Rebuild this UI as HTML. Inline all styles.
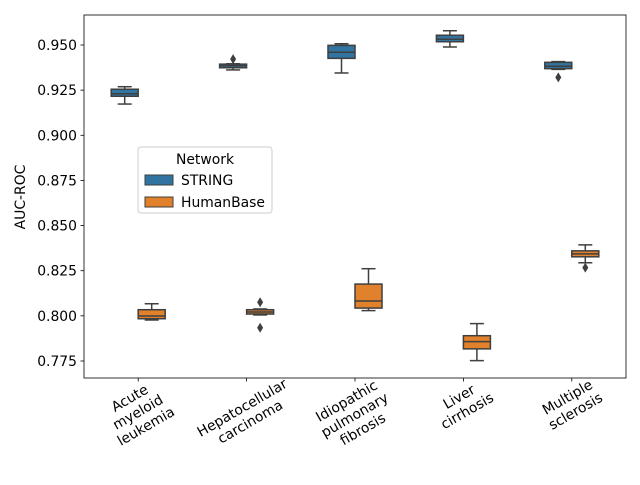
<!DOCTYPE html>
<html><head><meta charset="utf-8"><style>
body{margin:0;background:#fff}
svg text{font-family:"DejaVu Sans","Liberation Sans",sans-serif;fill:#000}
</style></head><body>
<svg id="c" width="640" height="480" xmlns="http://www.w3.org/2000/svg"></svg>
<script>
const categories=[["Acute","myeloid","leukemia"],["Hepatocellular","carcinoma"],["Idiopathic","pulmonary","fibrosis"],["Liver","cirrhosis"],["Multiple","sclerosis"]];
const seriesNames=["STRING","HumanBase"];
const colors=["#3274a1","#e1812c"];
// [whiskerLow, q1, median, q3, whiskerHigh]
const stringStats=[[0.9173,0.9216,0.9230,0.9255,0.9269],[0.9362,0.9374,0.9385,0.9394,0.9396],[0.9345,0.9426,0.9460,0.9498,0.9507],[0.9489,0.9518,0.9532,0.9554,0.9579],[0.9365,0.9369,0.9382,0.9404,0.9408]];
const humanStats=[[0.7977,0.7984,0.7999,0.8034,0.8067],[0.8005,0.8010,0.8021,0.8034,0.8038],[0.8029,0.8043,0.8082,0.8176,0.8261],[0.7752,0.7817,0.7857,0.7890,0.7957],[0.8294,0.8327,0.8343,0.8360,0.8393]];
const stringOutliers=[[],[0.9422],[],[],[0.9321]];
const humanOutliers=[[],[0.8075,0.7934],[],[],[0.8267]];
const yTicks=[0.775,0.800,0.825,0.850,0.875,0.900,0.925,0.950];

const L=84,R=626,T=15,B=378;
const FS=13.9;
const y=v=>45+(0.950-v)/0.025*45.14;
const step=(R-L)/categories.length;
const xc=i=>L+step*(i+0.5);
const NS="http://www.w3.org/2000/svg";
const svg=document.getElementById('c');
function mk(t,a,p){const e=document.createElementNS(NS,t);for(const k in a)e.setAttribute(k,a[k]);(p||svg).appendChild(e);return e;}

const frame=mk('rect',{x:L,y:T,width:R-L,height:B-T,fill:'none',stroke:'#000','stroke-width':0.8});



yTicks.forEach(v=>{
  const g=mk('g',{});
  
  
  mk('line',{x1:L-3.5,x2:L,y1:y(v),y2:y(v),stroke:'#000','stroke-width':0.8},g);
  const t=mk('text',{x:L-7,y:y(v)+5,'text-anchor':'end','font-size':FS},g);
  t.textContent=v.toFixed(3);
});
const yl=mk('text',{x:0,y:0,'font-size':FS,'text-anchor':'middle',transform:'translate(25,197) rotate(-90)'});
yl.textContent='AUC-ROC';



const sets=[stringStats,humanStats],outs=[stringOutliers,humanOutliers];
const bw=27;
for(let s=0;s<2;s++){
  for(let i=0;i<categories.length;i++){
    const st=sets[s][i];const cx=xc(i)+(s===0?-13.5:13.5);
    const g=mk('g',{});
    
    
    const c='#3f3f3f';
    mk('line',{x1:cx,x2:cx,y1:y(st[0]),y2:y(st[1]),stroke:c,'stroke-width':1.5},g);
    mk('line',{x1:cx,x2:cx,y1:y(st[3]),y2:y(st[4]),stroke:c,'stroke-width':1.5},g);
    mk('line',{x1:cx-7,x2:cx+7,y1:y(st[0]),y2:y(st[0]),stroke:c,'stroke-width':1.5},g);
    mk('line',{x1:cx-7,x2:cx+7,y1:y(st[4]),y2:y(st[4]),stroke:c,'stroke-width':1.5},g);
    mk('rect',{x:cx-bw/2,y:y(st[3]),width:bw,height:Math.max(0.5,y(st[1])-y(st[3])),fill:colors[s],stroke:c,'stroke-width':1.5},g);
    mk('line',{x1:cx-bw/2,x2:cx+bw/2,y1:y(st[2]),y2:y(st[2]),stroke:c,'stroke-width':1.5},g);
    outs[s][i].forEach(o=>{
      const p=mk('path',{d:`M${cx},${y(o)-5} L${cx+3},${y(o)} L${cx},${y(o)+5} L${cx-3},${y(o)} Z`,fill:c},g);
      
      
    });
  }
}

categories.forEach((lines,i)=>{
  mk('line',{x1:xc(i),x2:xc(i),y1:B,y2:B+3.5,stroke:'#000','stroke-width':0.8});
  const g=mk('g',{});
  
  
  const t=mk('text',{'font-size':FS,'text-anchor':'middle'},g);
  lines.forEach((ln,k)=>{const ts=mk('tspan',{x:0,dy:k===0?0:16.2},t);ts.textContent=ln;});
  const bb=t.getBBox();
  const w=bb.width,h=bb.height;
  const a=Math.PI/6;
  const bh=w*Math.sin(a)+h*Math.cos(a);
  const cy=B-2+bh/2;
  const ox=bb.x+w/2,oy=bb.y+h/2;
  g.setAttribute('transform',`translate(${xc(i)},${cy}) rotate(-30) translate(${-ox},${-oy})`);
});

// legend
const lg=mk('g',{});


mk('rect',{x:138,y:147,width:134,height:66,rx:3,fill:'#fff','fill-opacity':0.8,stroke:'#ccc','stroke-width':1},lg);
const lt=mk('text',{x:205,y:164,'font-size':FS,'text-anchor':'middle'},lg);
lt.textContent='Network';
seriesNames.forEach((n,k)=>{
  const e=mk('g',{},lg);
  
  
  mk('rect',{x:145,y:175+k*22,width:28,height:10,fill:colors[k],stroke:'#3f3f3f','stroke-width':1},e);
  const t=mk('text',{x:181,y:185+k*22,'font-size':FS},e);t.textContent=n;
});
</script>
</body></html>
